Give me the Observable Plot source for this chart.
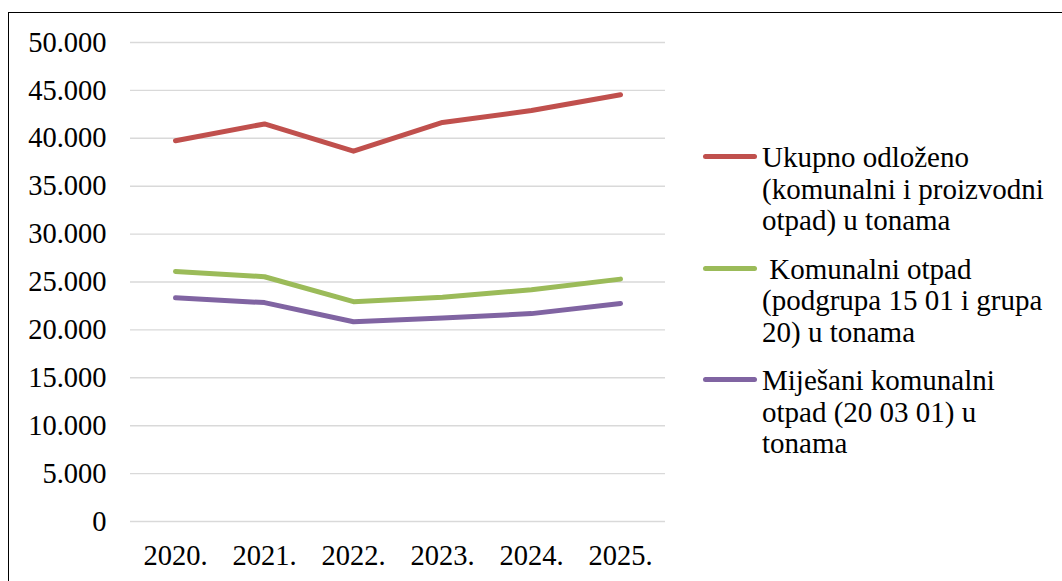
<!DOCTYPE html>
<html>
<head>
<meta charset="utf-8">
<script src="https://cdn.jsdelivr.net/npm/d3@7"></script>
<script src="https://cdn.jsdelivr.net/npm/@observablehq/plot@0.6"></script>
<style>
  html, body { margin: 0; padding: 0; background: #fff; overflow: hidden; }
  #wrap { position: relative; width: 1062px; height: 581px; overflow: hidden; font-family: "Liberation Serif", "Times New Roman", serif; }
  #frame { position: absolute; left: 8px; top: 12px; width: 1100px; height: 620px; border: 1.5px solid #000; box-sizing: border-box; }
  #chart { position: absolute; left: 0; top: 0; }
  #chart svg, #chart svg text { font-family: "Liberation Serif", "Times New Roman", serif !important; font-size: 28.5px !important; font-variant: normal !important; }
  #legend { position: absolute; left: 703px; top: 142px; width: 355px; }
  .entry { position: relative; margin-bottom: 17px; }
  .sw { position: absolute; left: 0; top: 12px; width: 54px; height: 5px; border-radius: 3px; }
  .txt { margin-left: 59px; font-size: 29px; line-height: 31.5px; color: #000; white-space: pre; }
</style>
</head>
<body>
<div id="wrap">
  <div id="frame"></div>
  <div id="chart"></div>
  <div id="legend"></div>
</div>
<script>
const years = ["2020.", "2021.", "2022.", "2023.", "2024.", "2025."];
const seriesNames = [
  "Ukupno odloženo (komunalni i proizvodni otpad) u tonama",
  " Komunalni otpad (podgrupa 15 01 i grupa 20) u tonama",
  "Miješani komunalni otpad (20 03 01) u tonama"
];
const legendLines = [
  ["Ukupno odloženo", "(komunalni i proizvodni", "otpad) u tonama"],
  [" Komunalni otpad", "(podgrupa 15 01 i grupa", "20) u tonama"],
  ["Miješani komunalni", "otpad (20 03 01) u", "tonama"]
];
const ukupno = [39750, 41500, 38650, 41650, 42900, 44550];
const komunalni = [26100, 25550, 22950, 23400, 24200, 25300];
const mijesani = [23350, 22850, 20850, 21250, 21700, 22750];
const colors = ["#C0504D", "#9BBB59", "#8064A2"];
const yTicks = [0, 5000, 10000, 15000, 20000, 25000, 30000, 35000, 40000, 45000, 50000];

const seriesValues = [ukupno, komunalni, mijesani];
const data = seriesValues.flatMap((vals, si) =>
  vals.map((v, i) => ({ year: years[i], value: v, series: seriesNames[si] })));

const loc = d3.formatLocale({ decimal: ",", thousands: ".", grouping: [3], currency: ["", ""] });
const fmt = loc.format(",");

const plot = Plot.plot({
  width: 680,
  height: 581,
  marginLeft: 130,
  marginRight: 15,
  marginTop: 42,
  marginBottom: 60,
  style: { fontFamily: "'Liberation Serif', 'Times New Roman', serif", fontSize: "28.5px", color: "#000", background: "transparent" },
  x: { type: "point", domain: years, padding: 0.5, label: null },
  y: { domain: [0, 50000], label: null },
  color: { domain: seriesNames, range: colors },
  marks: [
    Plot.ruleY(yTicks, { stroke: "#D9D9D9", strokeWidth: 1.4 }),
    Plot.axisY({ ticks: yTicks, tickFormat: fmt, tickSize: 0, tickPadding: 24, label: null, fill: "#000" }),
    Plot.axisX({ tickSize: 0, tickPadding: 23, label: null, fill: "#000" }),
    Plot.line(data, { x: "year", y: "value", z: "series", stroke: "series", strokeWidth: 5, strokeLinecap: "round", strokeLinejoin: "round" })
  ]
});
document.getElementById("chart").appendChild(plot);

const legend = document.getElementById("legend");
legendLines.forEach((lines, i) => {
  const e = document.createElement("div");
  e.className = "entry";
  const sw = document.createElement("div");
  sw.className = "sw";
  sw.style.background = colors[i];
  const t = document.createElement("div");
  t.className = "txt";
  t.textContent = lines.join("\n");
  e.appendChild(sw);
  e.appendChild(t);
  legend.appendChild(e);
});
</script>
</body>
</html>
